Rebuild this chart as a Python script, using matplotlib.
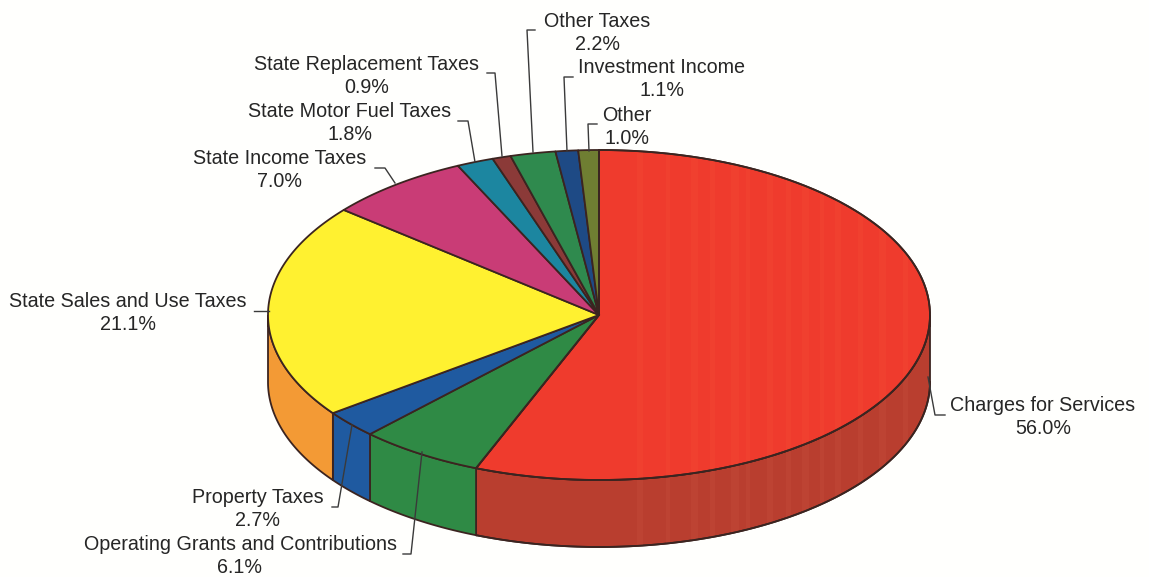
import numpy as np
import matplotlib
matplotlib.use('Agg')
import matplotlib.pyplot as plt
from matplotlib.patches import Polygon

plt.rcParams['font.family'] = ['Liberation Sans', 'DejaVu Sans']

# revenue shares, clockwise from 12 o'clock
names = ['Charges for Services', 'Operating Grants and Contributions', 'Property Taxes',
         'State Sales and Use Taxes', 'State Income Taxes', 'State Motor Fuel Taxes',
         'State Replacement Taxes', 'Other Taxes', 'Investment Income', 'Other']
shares = [56.0, 6.1, 2.7, 21.1, 7.0, 1.8, 0.9, 2.2, 1.1, 1.0]

top_colors = ['#EF3B2D', '#2F8A45', '#1F5AA0', '#FFF130', '#C93C76',
              '#1C86A0', '#8B3A38', '#2F8A4E', '#1E4A85', '#6F7E32']
side_colors = ['#B93E2F', '#2F8A45', '#1F5AA0', '#F39A35', '#A03060',
               '#186A80', '#6E2E2C', '#26703F', '#183B6A', '#59652A']

# label centres and leader lines in pixels
label_xy = [(1043, 417), (240, 556), (258, 509), (128, 313), (280, 170),
            (350, 123), (367, 76), (597, 33), (662, 79), (627, 127)]
leaders = [[(945, 415), (935, 415), (928, 377)],
           [(403, 554), (411, 554), (422, 452)],
           [(332, 507), (338, 507), (352, 425)],
           [(254, 311), (269, 311)],
           [(375, 168), (385, 168), (395, 183)],
           [(458, 121), (468, 121), (475, 162)],
           [(487, 73), (495, 73), (502, 156)],
           [(535, 30), (527, 30), (533, 152)],
           [(573, 77), (564, 77), (567, 151)],
           [(597, 124), (588, 124), (589, 151)]]

# faint vertical banding on the red slice
band_x = [640, 668, 694, 712, 735, 748, 770, 788, 805, 822, 838, 860, 882, 905]
band_w = [6, 4, 7, 5, 8, 4, 6, 5, 7, 4, 6, 5, 7, 5]

cx, cy, rx, ry, depth = 599, 315, 331, 165, 67
edge = '#3B2420'

def ell(t):
    # t in degrees, clockwise from the top
    r = np.radians(t)
    return cx + rx*np.sin(r), cy - ry*np.cos(r)

fig = plt.figure(figsize=(11.49, 5.77), dpi=100, facecolor='#FFFFFD')
ax = fig.add_axes([0, 0, 1, 1])
ax.set_xlim(0, 1149)
ax.set_ylim(577, 0)
ax.axis('off')

edges = np.concatenate([[0], np.cumsum(shares)]) * 3.6 / (sum(shares) / 100)

# side wall, only the front half (90 to 270 deg) can be seen
for i in range(len(shares)):
    a, b = max(edges[i], 90), min(edges[i+1], 270)
    if b <= a:
        continue
    t = np.linspace(a, b, 150)
    x, y = ell(t)
    pts = np.r_[np.c_[x, y], np.c_[x, y + depth][::-1]]
    ax.add_patch(Polygon(pts, fc=side_colors[i], ec=edge, lw=1.3, zorder=2))

# top face
red_patch = None
for i in range(len(shares)):
    t = np.linspace(edges[i], edges[i+1], 200)
    x, y = ell(t)
    pts = np.r_[[[cx, cy]], np.c_[x, y]]
    p = Polygon(pts, fc=top_colors[i], ec=edge, lw=1.3, zorder=3, joinstyle='round')
    ax.add_patch(p)
    if i == 0:
        red_patch = p

side_x, side_y = ell(np.linspace(90, edges[1], 150))
for bx, bw in zip(band_x, band_w):
    b = ax.bar(bx, 330, width=bw, bottom=150, color='#F8553A', alpha=0.2, lw=0, zorder=4)
    b[0].set_clip_path(red_patch)
    s = ax.bar(bx, 260, width=bw, bottom=320, color='#C9503F', alpha=0.3, lw=0, zorder=2.5)
    wall = Polygon(np.r_[np.c_[side_x, side_y], np.c_[side_x, side_y + depth][::-1]],
                   transform=ax.transData)
    s[0].set_clip_path(wall)

# redraw the red outline over the bands
x, y = ell(np.linspace(edges[0], edges[1], 200))
ax.plot(np.r_[cx, x, cx], np.r_[cy, y, cy], color=edge, lw=1.3, zorder=5)
ax.plot(side_x, side_y + depth, color=edge, lw=1.3, zorder=5)

for pts in leaders:
    p = np.array(pts)
    ax.plot(p[:, 0], p[:, 1], color='#3A3A3A', lw=1.0, zorder=6)

for name, v, (lx, ly) in zip(names, shares, label_xy):
    ax.text(lx, ly, f'{name}\n{v:.1f}%', ha='center', va='center', ma='center',
            fontsize=14.2, color='#262626', linespacing=1.26, zorder=7)

fig.savefig('out.png', dpi=100, facecolor=fig.get_facecolor())
